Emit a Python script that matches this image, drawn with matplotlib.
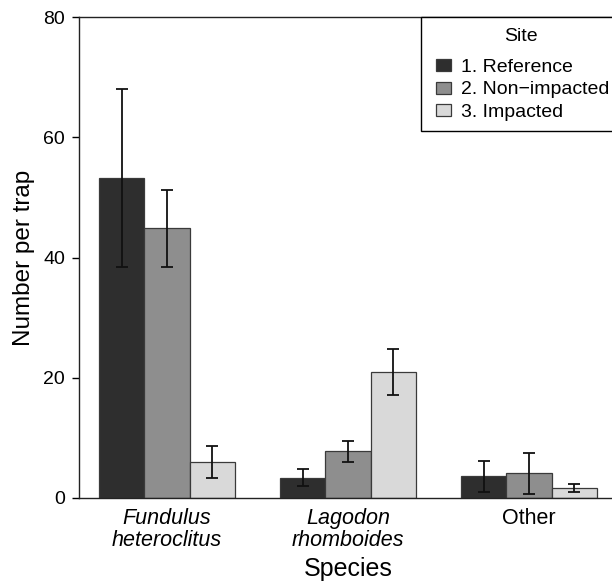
import matplotlib
matplotlib.use("Agg")
import matplotlib.pyplot as plt
from matplotlib.patches import Rectangle
from matplotlib.container import BarContainer
from matplotlib.legend_handler import HandlerPatch, update_from_first_child
import numpy as np

species = ["Fundulus\nheteroclitus", "Lagodon\nrhomboides", "Other"]
sites = ["1. Reference", "2. Non\u2212impacted", "3. Impacted"]
means = {
    "1. Reference": [53.3, 3.4, 3.6],
    "2. Non\u2212impacted": [44.9, 7.8, 4.1],
    "3. Impacted": [6.0, 21.0, 1.7],
}
errors = {
    "1. Reference": [14.8, 1.45, 2.55],
    "2. Non\u2212impacted": [6.4, 1.75, 3.4],
    "3. Impacted": [2.6, 3.8, 0.7],
}
colors = ["#2e2e2e", "#8e8e8e", "#d9d9d9"]
yticks = [0, 20, 40, 60, 80]

plt.rcParams['font.family'] = ['Liberation Sans', 'DejaVu Sans']

fig = plt.figure(figsize=(6.12, 5.82), dpi=100)
W, H = 612, 582
ax = fig.add_axes([79 / W, (H - 498) / H, (617 - 79) / W, (498 - 17) / H])

x = np.arange(len(species))
width = 0.25
for i, s in enumerate(sites):
    ax.bar(x + (i - 1) * width, means[s], width, color=colors[i],
           edgecolor="#3a3a3a", linewidth=0.9, label=s, zorder=2)
    ax.errorbar(x + (i - 1) * width, means[s], yerr=errors[s], fmt="none",
                ecolor="#111111", elinewidth=1.3, capsize=4, capthick=1.3, zorder=3)

ax.set_xlim(-0.487, 2.487)
ax.set_ylim(0, 80)
ax.set_yticks(yticks)
ax.set_xticks(x)
ax.set_xticklabels(species, linespacing=1.05)
for lbl in ax.get_xticklabels()[:2]:
    lbl.set_fontstyle("italic")
ax.tick_params(axis="x", length=0, pad=7, labelsize=15.5)
ax.tick_params(axis="y", length=5, width=1.0, direction="out", labelsize=14, pad=5)
for sp in ax.spines.values():
    sp.set_linewidth(1.0)
    sp.set_color("#222222")

ax.set_ylabel("Number per trap", fontsize=17.5, labelpad=6)
ax.set_xlabel("Species", fontsize=18, labelpad=5)


def legend_rect(legend, orig_handle, xdescent, ydescent, width, height, fontsize):
    pw, ph = 10.8, 8.6
    return Rectangle((-xdescent + 3.0, -ydescent + (height - ph) / 2), pw, ph)


leg = ax.legend(title="Site", loc="upper left", bbox_to_anchor=(0.636, 1.0),
                fontsize=14, title_fontsize=14, frameon=True, fancybox=False,
                edgecolor="black", handlelength=1.3, handleheight=0.7,
                handletextpad=0.2, labelspacing=0.24, borderpad=0.55, borderaxespad=0,
                handler_map={BarContainer: HandlerPatch(patch_func=legend_rect,
                                                        update_func=update_from_first_child)})
leg.get_frame().set_linewidth(1.0)
leg.get_frame().set_alpha(1)
leg._legend_box.sep = 10

fig.savefig("out.png", dpi=100)
